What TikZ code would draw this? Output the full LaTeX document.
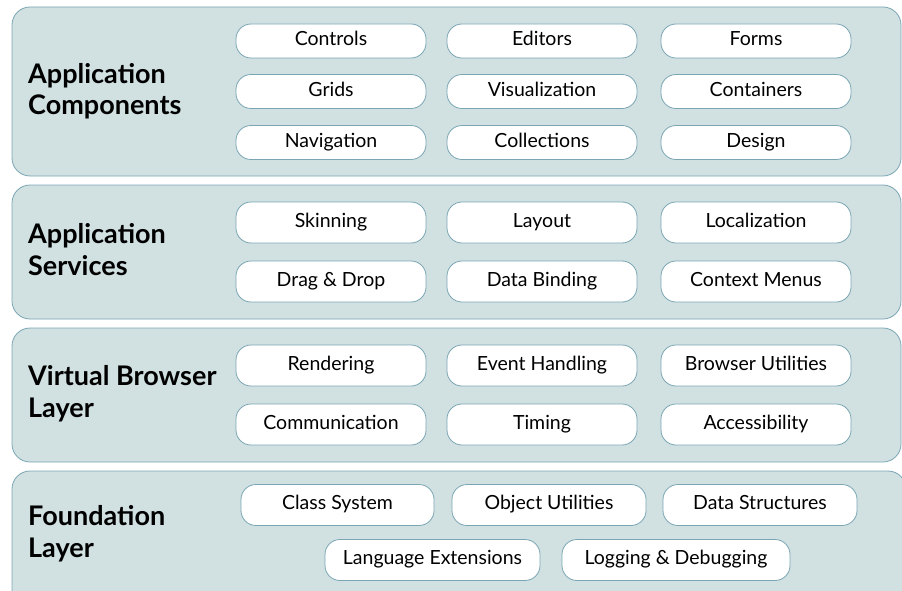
\documentclass[tikz,border=0pt]{standalone}
\usepackage{fontspec}
\setmainfont{Lato}
\usetikzlibrary{positioning}
\definecolor{layerfill}{HTML}{D1E0E1}
\definecolor{layerline}{HTML}{7AA6B4}
\tikzset{
	layerbox/.style={draw=layerline, fill=layerfill, line width=0.8pt, rounded corners=18pt},
	layertitle/.style={anchor=base west, align=left, font=\fontsize{27}{32}\selectfont\bfseries, inner sep=0pt},
	pill/.style={draw=layerline, fill=white, line width=0.8pt, rounded corners=15pt, minimum width=190pt, minimum height=34pt, inner sep=0pt, text height=14pt, text depth=4.6pt, font=\fontsize{19.5}{22}\selectfont},
	tallpill/.style={pill, minimum height=41pt}
}

\begin{document}
\begin{tikzpicture}[x=1pt, y=-1pt]
	%%%%% START %%%%%
	\useasboundingbox (0, 0) rectangle (902, 591);
	\clip (0, 0) rectangle (902, 591);
	
	% the four layers
	\draw[layerbox] (12, 7) rectangle (901, 176);
	\draw[layerbox] (12, 185) rectangle (901, 319);
	\draw[layerbox] (12, 328) rectangle (901, 462);
	\draw[layerbox] (12, 471) rectangle (906, 610);
	
	% application components
	\node[layertitle] (appcomp) at (28, 115) {Application\\Components};
	\node[pill] (controls) at (331, 41) {Controls};
	\node[pill] (editors) at (542, 41) {Editors};
	\node[pill] (forms) at (756, 41) {Forms};
	\node[pill] (grids) at (331, 91.5) {Grids};
	\node[pill] (visual) at (542, 91.5) {Visualization};
	\node[pill] (containers) at (756, 91.5) {Containers};
	\node[pill] (navigation) at (331, 142.5) {Navigation};
	\node[pill] (collections) at (542, 142.5) {Collections};
	\node[pill] (design) at (756, 142.5) {Design};
	
	% application services
	\node[layertitle] (appserv) at (28, 275) {Application\\Services};
	\node[tallpill] (skinning) at (331, 222.5) {Skinning};
	\node[tallpill] (layout) at (542, 222.5) {Layout};
	\node[tallpill] (localization) at (756, 222.5) {Localization};
	\node[tallpill] (dragdrop) at (331, 281.5) {Drag \& Drop};
	\node[tallpill] (databinding) at (542, 281.5) {Data Binding};
	\node[tallpill] (contextmenus) at (756, 281.5) {Context Menus};
	
	% virtual browser layer
	\node[layertitle] (vbl) at (28, 417) {Virtual Browser\\Layer};
	\node[tallpill] (rendering) at (331, 365.5) {Rendering};
	\node[tallpill] (events) at (542, 365.5) {Event Handling};
	\node[tallpill] (browserutils) at (756, 365.5) {Browser Utilities};
	\node[tallpill] (communication) at (331, 424.5) {Communication};
	\node[tallpill] (timing) at (542, 424.5) {Timing};
	\node[tallpill] (accessibility) at (756, 424.5) {Accessibility};
	
	% foundation layer
	\node[layertitle] (foundation) at (28, 557) {Foundation\\Layer};
	\node[tallpill, minimum width=193pt] (classsys) at (337.5, 505) {Class System};
	\node[tallpill, minimum width=194pt] (objutils) at (549, 505) {Object Utilities};
	\node[tallpill, minimum width=194pt] (datastruct) at (760, 505) {Data Structures};
	\node[tallpill, minimum width=215pt] (langext) at (432.5, 560) {Language Extensions};
	\node[tallpill, minimum width=228pt] (logging) at (676, 560) {Logging \& Debugging};
	%%%%% END %%%%%
\end{tikzpicture}
\end{document}
